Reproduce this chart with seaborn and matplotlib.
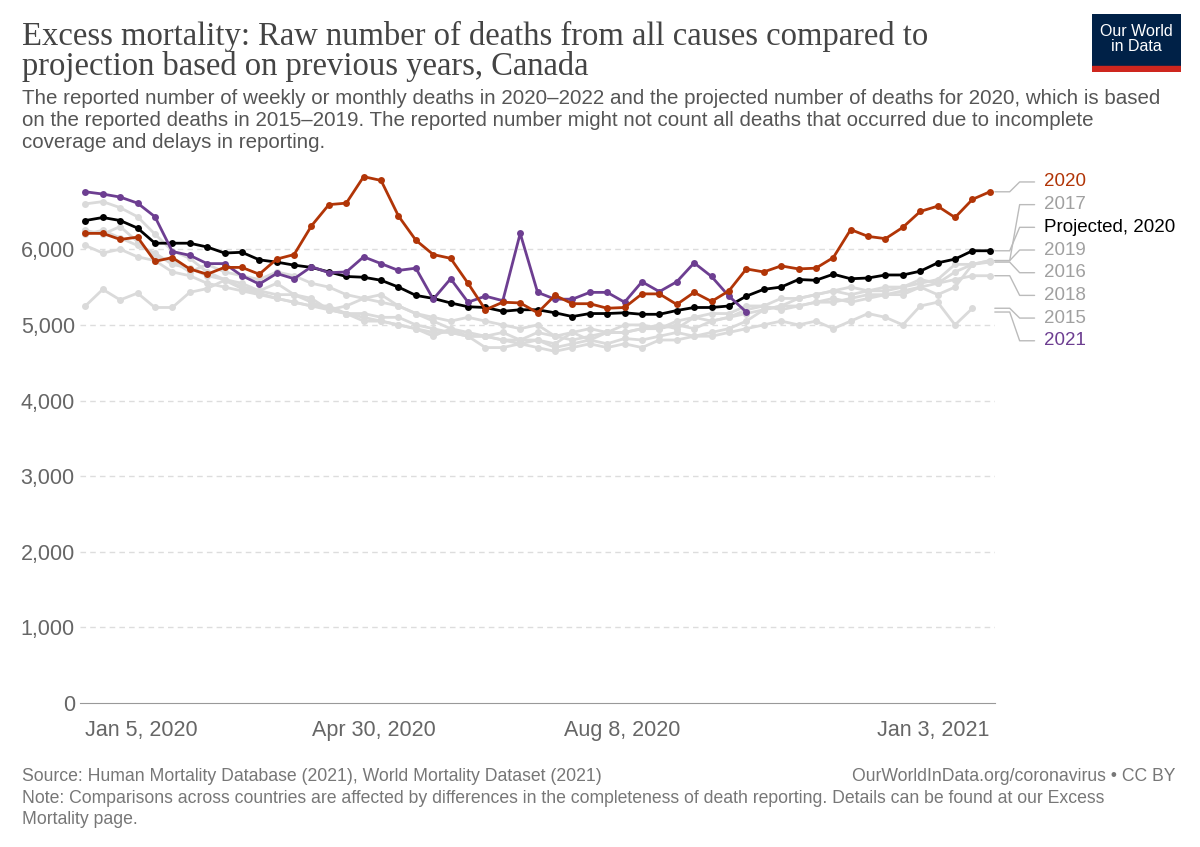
import matplotlib
matplotlib.use("Agg")
import numpy as np
import pandas as pd
import matplotlib.pyplot as plt
import seaborn as sns

# ---- data (weekly from Jan 5, 2020) ----
deaths_2020 = [6210, 6210, 6130, 6160, 5840, 5890, 5740, 5670, 5760, 5760, 5670, 5870, 5930,
               6310, 6590, 6610, 6960, 6910, 6440, 6120, 5930, 5880, 5550, 5200, 5300, 5290,
               5160, 5390, 5280, 5280, 5220, 5230, 5410, 5410, 5270, 5430, 5310, 5450, 5740,
               5700, 5780, 5740, 5750, 5890, 6260, 6170, 6140, 6290, 6500, 6570, 6420, 6660, 6760]
projected_2020 = [6380, 6420, 6380, 6280, 6080, 6080, 6080, 6030, 5950, 5960, 5860, 5830, 5790,
                  5760, 5700, 5640, 5630, 5590, 5500, 5390, 5350, 5290, 5240, 5230, 5180, 5200,
                  5200, 5160, 5110, 5150, 5150, 5160, 5140, 5140, 5190, 5230, 5230, 5250, 5380,
                  5470, 5500, 5600, 5590, 5670, 5610, 5620, 5660, 5660, 5710, 5820, 5870, 5980, 5980]
deaths_2021 = [6760, 6730, 6690, 6610, 6430, 5970, 5920, 5810, 5810, 5650, 5540, 5680, 5610,
               5770, 5690, 5700, 5900, 5810, 5720, 5750, 5340, 5610, 5300, 5380, 5320, 6210,
               5430, 5340, 5340, 5430, 5430, 5300, 5570, 5440, 5570, 5820, 5640, 5380, 5170]
deaths_2015 = [5250, 5470, 5330, 5420, 5230, 5230, 5430, 5480, 5590, 5480, 5420, 5350, 5300,
               5250, 5250, 5150, 5150, 5100, 5100, 5000, 4950, 4900, 4850, 4700, 4700, 4750,
               4700, 4650, 4700, 4750, 4700, 4750, 4700, 4800, 4800, 4850, 4850, 4900, 4950,
               5000, 5050, 5000, 5050, 4950, 5050, 5150, 5100, 5000, 5250, 5300, 5000, 5220]
deaths_2016 = [6050, 5950, 6000, 5900, 5850, 5700, 5650, 5550, 5500, 5450, 5400, 5350, 5300,
               5250, 5200, 5150, 5100, 5050, 5000, 4950, 4900, 4900, 4850, 4850, 4800, 4800,
               4900, 4850, 4800, 4850, 4900, 4900, 4950, 4950, 5000, 4950, 5050, 5100, 5150,
               5200, 5250, 5250, 5300, 5300, 5350, 5400, 5400, 5450, 5500, 5400, 5500, 5800, 5830]
deaths_2017 = [6600, 6630, 6550, 6430, 6200, 5980, 5880, 5700, 5600, 5550, 5450, 5400, 5400,
               5300, 5200, 5150, 5050, 5050, 5000, 4950, 4850, 4950, 4900, 4850, 4800, 4750,
               4800, 4700, 4750, 4800, 4750, 4820, 4800, 4850, 4900, 4850, 4900, 4950, 5050,
               5200, 5250, 5350, 5400, 5450, 5500, 5450, 5500, 5500, 5600, 5550, 5700, 5800, 5850]
deaths_2018 = [6200, 6250, 6150, 6050, 5950, 5800, 5750, 5650, 5600, 5500, 5450, 5550, 5400,
               5350, 5200, 5250, 5350, 5300, 5250, 5150, 5050, 4950, 4850, 4850, 4900, 4800,
               4800, 4750, 4900, 4950, 4900, 5000, 5000, 4950, 5050, 5100, 5050, 5100, 5200,
               5250, 5200, 5250, 5300, 5350, 5300, 5350, 5400, 5400, 5500, 5550, 5600, 5650, 5650]
deaths_2019 = [6250, 6200, 6300, 6100, 5900, 5850, 5700, 5800, 5700, 5650, 5600, 5700, 5650,
               5550, 5500, 5400, 5350, 5400, 5250, 5150, 5100, 5050, 5100, 5050, 5000, 4950,
               5000, 4850, 4900, 4800, 4900, 4900, 4950, 5000, 4950, 5100, 5150, 5150, 5250,
               5250, 5350, 5350, 5400, 5450, 5400, 5450, 5450, 5500, 5550, 5600, 5800, 5800, 5850]

tick_days = [0, 116, 216, 364]
tick_labels = ["Jan 5, 2020", "Apr 30, 2020", "Aug 8, 2020", "Jan 3, 2021"]

# ---- long table ----
series = [
    ("2015", deaths_2015, "#dadada"), ("2016", deaths_2016, "#dadada"),
    ("2017", deaths_2017, "#dadada"), ("2018", deaths_2018, "#dadada"),
    ("2019", deaths_2019, "#dadada"), ("Projected, 2020", projected_2020, "black"),
    ("2021", deaths_2021, "#6d3e91"), ("2020", deaths_2020, "#b13507"),
]
frames = []
for name, vals, _ in series:
    frames.append(pd.DataFrame({"day": np.arange(len(vals)) * 7, "deaths": vals, "series": name}))
df = pd.concat(frames, ignore_index=True)
palette = {name: c for name, _, c in series}

sns.set_style("white")
plt.rcParams["font.family"] = ["Liberation Sans", "DejaVu Sans"]
fig = plt.figure(figsize=(12, 8.47), dpi=100)
ax = fig.add_axes([0.067, 0.170, 0.762, 0.625])

sns.lineplot(data=df, x="day", y="deaths", hue="series", palette=palette,
             hue_order=[s[0] for s in series], marker="o", markersize=5,
             markeredgewidth=0, linewidth=2, legend=False, ax=ax, sort=False)

ax.set_xlim(-2, 366)
ax.set_ylim(0, 7000)
ax.set_yticks(range(0, 7000, 1000))
ax.set_yticklabels([f"{v:,}" for v in range(0, 7000, 1000)], fontsize=15.5, color="#666666")
ax.set_xticks(tick_days)
ax.set_xticklabels(tick_labels, fontsize=15.5, color="#666666")
xt = ax.get_xticklabels()
xt[0].set_ha("left")
xt[-1].set_ha("right")
ax.set_xlabel("")
ax.set_ylabel("")
for v in range(1000, 7000, 1000):
    ax.axhline(v, color="#dddddd", lw=1, ls=(0, (4, 3)), zorder=0)
for s in ["top", "right", "left"]:
    ax.spines[s].set_visible(False)
ax.spines["bottom"].set_color("#999999")
ax.tick_params(axis="x", length=6, color="#999999", pad=6)
ax.tick_params(axis="y", length=0, pad=4)

# right-hand labels with connectors
labels = [("2020", 6760, 6890, "#b13507"), ("2017", 5850, 6590, "#a0a0a0"),
          ("Projected, 2020", 5980, 6290, "black"), ("2019", 5850, 5990, "#a0a0a0"),
          ("2016", 5830, 5690, "#a0a0a0"), ("2018", 5650, 5390, "#a0a0a0"),
          ("2015", 5220, 5090, "#a0a0a0"), ("2021", 5170, 4790, "#6d3e91")]
for text, yend, ylab, col in labels:
    ax.plot([366, 372, 376, 382], [yend, yend, ylab, ylab], color="#bbbbbb", lw=1,
            clip_on=False)
    ax.text(386, ylab, text, fontsize=13.5, color=col, va="center", clip_on=False)

# titles and notes
fig.text(0.018, 0.975, "Excess mortality: Raw number of deaths from all causes compared to\n"
         "projection based on previous years, Canada", fontsize=23.5, family="Liberation Serif",
         color="#444444", va="top", linespacing=0.95)
fig.text(0.018, 0.895, "The reported number of weekly or monthly deaths in 2020–2022 and the projected "
         "number of deaths for 2020, which is based\non the reported deaths in 2015–2019. The reported "
         "number might not count all deaths that occurred due to incomplete\ncoverage and delays in reporting.",
         fontsize=14.8, color="#555555", va="top", linespacing=1.2)
fig.text(0.018, 0.093, "Source: Human Mortality Database (2021), World Mortality Dataset (2021)",
         fontsize=12.7, color="#777777", va="top")
fig.text(0.98, 0.093, "OurWorldInData.org/coronavirus • CC BY", fontsize=12.7,
         color="#777777", va="top", ha="right")
fig.text(0.018, 0.067, "Note: Comparisons across countries are affected by differences in the completeness "
         "of death reporting. Details can be found at our Excess\nMortality page.",
         fontsize=12.7, color="#777777", va="top", linespacing=1.25)

# logo
logo = fig.add_axes([0.910, 0.915, 0.074, 0.068])
logo.set_xlim(0, 1)
logo.set_ylim(0, 1)
logo.axis("off")
logo.add_patch(plt.Rectangle((0, 0.1), 1, 0.9, color="#002147"))
logo.add_patch(plt.Rectangle((0, 0), 1, 0.1, color="#ce261e"))
logo.text(0.5, 0.57, "Our World\nin Data", color="white", ha="center", va="center",
          fontsize=11.5, linespacing=1.0)

fig.savefig("out.png", dpi=100)
